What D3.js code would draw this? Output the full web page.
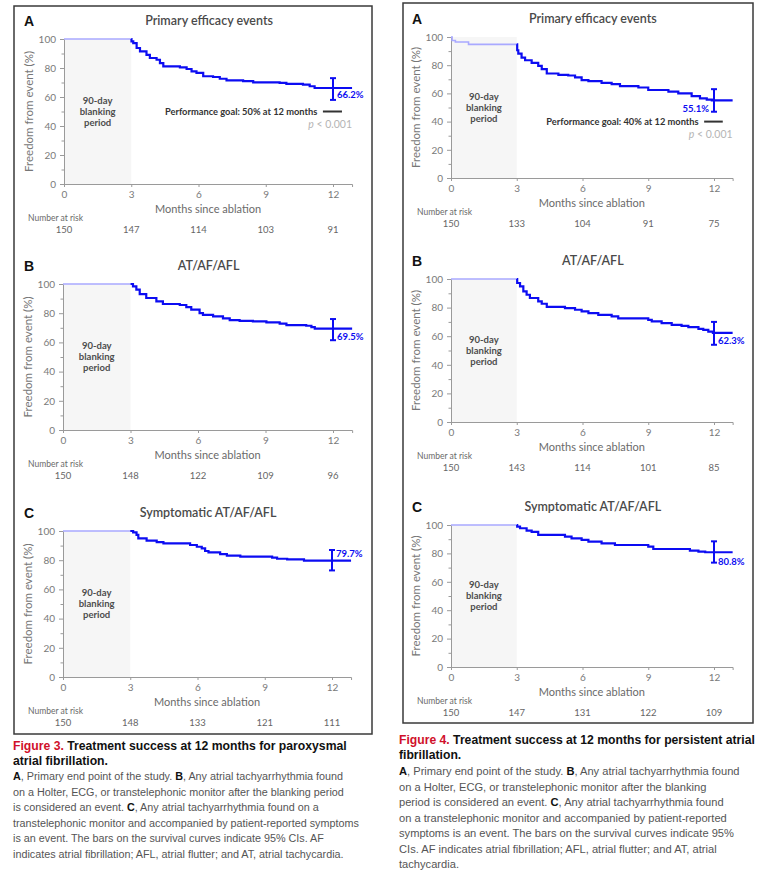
<!DOCTYPE html>
<html>
<head>
<meta charset="utf-8">
<script src="https://cdn.jsdelivr.net/npm/d3@7"></script>
<style>
  body { margin: 0; background: #fff; }
  svg { display: block; }
</style>
</head>
<body>
<svg id="fig" width="763" height="871"></svg>
<script>
// month grid used for ticks + number at risk
const riskMonths = [0, 3, 6, 9, 12];
const yTicks = [0, 20, 40, 60, 80, 100];
const yMinor = [10, 30, 50, 70, 90];

// Figure 3 (paroxysmal AF)
const fig3A_months = [3.0, 3.01, 3.09, 3.24, 3.39, 3.68, 3.83, 4.13, 4.28, 4.43, 5.17, 5.47, 5.69, 5.91, 6.21, 6.65, 6.95, 7.25, 7.99, 8.44, 9.62, 9.92, 10.66, 10.96, 11.18];
const fig3A_free   = [100, 98.4, 97.2, 93.8, 91.5, 89, 86.9, 85.7, 83.4, 81.1, 80.5, 79.3, 77.7, 76.6, 74.3, 73.8, 72.6, 71.5, 71, 70.1, 69.7, 69, 68.5, 67.4, 66.2];
const fig3A_risk   = [150, 147, 114, 103, 91];

const fig3B_months = [3.0, 3.11, 3.26, 3.41, 3.7, 4.15, 4.44, 5.19, 5.48, 5.7, 6.07, 6.22, 6.67, 7.11, 7.41, 7.85, 8.44, 9.04, 9.63, 9.93, 10.81, 11.04, 11.19];
const fig3B_free   = [100, 98.4, 96.1, 93.1, 90.4, 88.1, 86.3, 85.6, 84.2, 82.4, 80.1, 78.9, 77.8, 76.4, 75.3, 74.8, 74.4, 73.7, 72.8, 71.9, 71.4, 70.5, 69.5];
const fig3B_risk   = [150, 148, 122, 109, 96];

const fig3C_months = [3.0, 3.13, 3.28, 3.36, 3.73, 4.18, 4.48, 5.67, 5.97, 6.19, 6.34, 6.49, 7.01, 7.31, 7.91, 9.33, 9.55, 10.0, 10.75];
const fig3C_free   = [100, 99.1, 97.3, 95, 93.4, 92.4, 91.5, 90.4, 89.2, 88.1, 86.3, 85.4, 84.2, 83.1, 82.4, 81.7, 81, 80.5, 79.7];
const fig3C_risk   = [150, 148, 133, 121, 111];

// Figure 4 (persistent AF)
const fig4A_blankMonths = [0, 0.05, 0.2, 0.8];
const fig4A_blankFree   = [100, 97.5, 96.5, 94.8];
const fig4A_months = [3.0, 3.02, 3.07, 3.22, 3.38, 3.68, 3.98, 4.14, 4.37, 4.9, 5.35, 5.66, 5.96, 6.27, 6.87, 7.33, 7.71, 8.55, 9.0, 9.92, 10.37, 10.98, 11.36, 11.67, 11.9];
const fig4A_free   = [94.8, 90.6, 88.2, 85.4, 83.5, 81.6, 79.5, 77.2, 74.1, 73.2, 72.7, 71.3, 69.4, 68.7, 67.5, 66.6, 65.2, 64.2, 62.4, 61.2, 60, 58.1, 56.5, 55.6, 55.1];
const fig4A_risk   = [150, 133, 104, 91, 75];

const fig4B_months = [3.0, 3.02, 3.15, 3.3, 3.45, 3.6, 3.98, 4.14, 4.37, 5.2, 5.66, 5.96, 6.27, 6.72, 7.33, 7.63, 9.0, 9.16, 9.61, 10.07, 10.52, 10.83, 11.29, 11.51, 11.74, 11.95];
const fig4B_free   = [100, 97.2, 94.8, 91.3, 89, 86.7, 84.3, 82.7, 80.5, 79.6, 78.5, 77.3, 76.1, 74.9, 73.8, 72.4, 71.4, 70.3, 69.1, 67.9, 67.2, 66.3, 65.1, 64.4, 63.2, 62.3];
const fig4B_risk   = [150, 143, 114, 101, 85];

const fig4C_months = [3.0, 3.02, 3.15, 3.45, 3.68, 3.98, 5.2, 5.5, 5.96, 6.27, 6.87, 7.48, 9.0, 9.23, 10.9, 11.29, 11.6];
const fig4C_free   = [100, 98.8, 97.7, 96, 95.1, 93, 91.8, 90.6, 89.5, 88.3, 87.1, 85.9, 84.8, 83.1, 82, 81.3, 80.8];
const fig4C_risk   = [150, 147, 131, 122, 109];

// 12-month estimate + 95% CI
const finalEst = { "3A": 66.2, "3B": 69.5, "3C": 79.7, "4A": 55.1, "4B": 62.3, "4C": 80.8 };
const finalCI  = { "3A": [58, 73], "3B": [61.5, 76], "3C": [73, 87], "4A": [47, 63], "4B": [54, 70], "4C": [73.5, 88.5] };
const goals    = { "3A": 50, "4A": 40 };

const titles = ["Primary efficacy events", "AT/AF/AFL", "Symptomatic AT/AF/AFL"];

const BLUE = "#0c0cf2", LIGHTBLUE = "#a9a9ff";
const svg = d3.select("#fig");
svg.append("rect").attr("width", 763).attr("height", 871).attr("fill", "#fff");

// frames round each figure
svg.append("rect").attr("x", 14).attr("y", 6).attr("width", 358).attr("height", 728)
  .attr("fill", "none").attr("stroke", "#3a3a3a").attr("stroke-width", 1.5);
svg.append("rect").attr("x", 403).attr("y", 3).attr("width", 350).attr("height", 720)
  .attr("fill", "none").attr("stroke", "#3a3a3a").attr("stroke-width", 1.5);

// panel layouts (pixels only)
const panels = [
  { id: "3A", letter: "A", t: 0, m: fig3A_months, f: fig3A_free, risk: fig3A_risk, x0: 64, x12: 333, y0: 184, y100: 39, side: "right", dy: 7 },
  { id: "3B", letter: "B", t: 1, m: fig3B_months, f: fig3B_free, risk: fig3B_risk, x0: 63, x12: 333, y0: 430, y100: 284, side: "right", dy: 8 },
  { id: "3C", letter: "C", t: 2, m: fig3C_months, f: fig3C_free, risk: fig3C_risk, x0: 63, x12: 332, y0: 677, y100: 531, side: "right", dy: -7 },
  { id: "4A", letter: "A", t: 0, m: fig4A_months, f: fig4A_free, risk: fig4A_risk, bm: fig4A_blankMonths, bf: fig4A_blankFree, x0: 451, x12: 714, y0: 178, y100: 37, side: "left", dy: 8 },
  { id: "4B", letter: "B", t: 1, m: fig4B_months, f: fig4B_free, risk: fig4B_risk, x0: 451, x12: 714, y0: 422, y100: 279, side: "right", dy: 8 },
  { id: "4C", letter: "C", t: 2, m: fig4C_months, f: fig4C_free, risk: fig4C_risk, x0: 451, x12: 714, y0: 667, y100: 525, side: "right", dy: 9 }
];

const FONT = "Lato, 'Open Sans', sans-serif";
const endMonth = 12.85;

panels.forEach(p => {
  const g = svg.append("g").style("font-family", FONT);
  const pxPerMonth = (p.x12 - p.x0) / 12;
  const x = d3.scaleLinear().domain([0, endMonth]).range([p.x0, p.x0 + endMonth * pxPerMonth]);
  const y = d3.scaleLinear().domain([0, 100]).range([p.y0, p.y100]);

  // blanking period shading
  g.append("rect")
    .attr("x", x(0)).attr("y", y(100))
    .attr("width", x(3) - x(0)).attr("height", y(0) - y(100))
    .attr("fill", "#f6f6f6");

  // axes
  g.append("g").attr("transform", `translate(${x(0)},0)`)
    .call(d3.axisLeft(y).tickValues(yTicks).tickSize(4).tickPadding(4));
  g.append("g").attr("transform", `translate(${x(0)},0)`)
    .call(d3.axisLeft(y).tickValues(yMinor).tickSize(2.5).tickFormat(""))
    .call(a => a.select(".domain").remove());
  g.append("g").attr("transform", `translate(0,${y(0)})`)
    .call(d3.axisBottom(x).tickValues(riskMonths).tickSize(3).tickPadding(4));
  g.selectAll(".domain, .tick line").attr("stroke", "#9a9a9a");
  g.selectAll(".tick text").attr("fill", "#7a7a7a").style("font-size", "10px").style("font-family", FONT);

  // titles
  g.append("text").attr("y", y(100) - 18).attr("dy", "0.35em")
    .attr("x", p.id[0] === "3" ? 24 : 412)
    .style("font-size", "14px").style("font-weight", 900).attr("fill", "#111")
    .style("font-family", "'Liberation Sans', Arial, sans-serif")
    .text(p.letter);
  g.append("text").attr("x", (x(0) + x(endMonth)) / 2 + 1).attr("y", y(100) - 18).attr("dy", "0.35em")
    .attr("text-anchor", "middle").style("font-size", "12.5px").style("font-weight", 600)
    .attr("fill", "#4a4a4a").text(titles[p.t]);

  // axis titles
  g.append("text")
    .attr("transform", `translate(${x(0) - 35},${y(50)}) rotate(-90)`)
    .attr("text-anchor", "middle").attr("dy", "0.35em")
    .style("font-size", "11.5px").attr("fill", "#777")
    .text("Freedom from event (%)");
  g.append("text").attr("x", (x(0) + x(endMonth)) / 2).attr("y", y(0) + 25).attr("dy", "0.35em")
    .attr("text-anchor", "middle").style("font-size", "11px").attr("fill", "#6a6a6a")
    .text("Months since ablation");

  // blanking label
  ["90-day", "blanking", "period"].forEach((s, i) => {
    g.append("text").attr("x", (x(0) + x(3)) / 2).attr("y", y(50) + (i - 1) * 11).attr("dy", "0.35em")
      .attr("text-anchor", "middle").style("font-size", "9.5px").style("font-weight", 700)
      .attr("fill", "#4d4d4d").text(s);
  });

  // number at risk
  g.append("text").attr("x", p.id[0] === "3" ? 28 : 417).attr("y", y(0) + 34).attr("dy", "0.35em")
    .style("font-size", "8.5px").attr("fill", "#6a6a6a").text("Number at risk");
  g.selectAll(".risk").data(p.risk).enter().append("text")
    .attr("x", (d, i) => x(riskMonths[i])).attr("y", y(0) + 45.5).attr("dy", "0.35em")
    .attr("text-anchor", "middle").style("font-size", "9.5px").attr("fill", "#666")
    .text(d => d);

  // KM curve
  const line = d3.line().x(d => x(d[0])).y(d => y(d[1])).curve(d3.curveStepAfter);
  const bm = p.bm || [0], bf = p.bf || [100];
  const blankPts = bm.map((m, i) => [m, bf[i]]);
  blankPts.push([3, bf[bf.length - 1]]);
  g.append("path").datum(blankPts).attr("d", line)
    .attr("fill", "none").attr("stroke", LIGHTBLUE).attr("stroke-width", 1.6);
  const pts = p.m.map((m, i) => [m, p.f[i]]);
  pts.push([endMonth, p.f[p.f.length - 1]]);
  g.append("path").datum(pts).attr("d", line)
    .attr("fill", "none").attr("stroke", BLUE).attr("stroke-width", 2.2);

  // 95% CI bar at 12 months
  const ci = finalCI[p.id];
  g.append("line").attr("x1", x(12)).attr("x2", x(12)).attr("y1", y(ci[0])).attr("y2", y(ci[1]))
    .attr("stroke", BLUE).attr("stroke-width", 2);
  ci.forEach(v => g.append("line").attr("x1", x(12) - 3).attr("x2", x(12) + 3)
    .attr("y1", y(v)).attr("y2", y(v)).attr("stroke", BLUE).attr("stroke-width", 2));
  const est = finalEst[p.id];
  g.append("text")
    .attr("x", p.side === "right" ? x(12) + 4 : x(12) - 5)
    .attr("y", y(est) + p.dy).attr("dy", "0.35em")
    .attr("text-anchor", p.side === "right" ? "start" : "end")
    .style("font-size", "9.5px").style("font-weight", 700).attr("fill", BLUE)
    .text(est.toFixed(1) + "%");

  // performance goal
  if (goals[p.id] !== undefined) {
    const gv = goals[p.id];
    g.append("line").attr("x1", x(11.55)).attr("x2", x(12.4)).attr("y1", y(gv)).attr("y2", y(gv))
      .attr("stroke", "#333").attr("stroke-width", 2);
    g.append("text").attr("x", x(11.3)).attr("y", y(gv)).attr("dy", "0.35em")
      .attr("text-anchor", "end").style("font-size", "9.3px").style("font-weight", 700).attr("fill", "#333")
      .text(`Performance goal: ${gv}% at 12 months`);
    const pt = g.append("text").attr("x", x(12.85)).attr("y", y(gv) + 13).attr("dy", "0.35em")
      .attr("text-anchor", "end").style("font-size", "10.5px").attr("fill", "#b5b5b5");
    pt.append("tspan").style("font-style", "italic").text("p");
    pt.append("tspan").text(" < 0.001");
  }
});

// captions
const cap3 = [
  { y: 750, bold: true, parts: [["Figure 3.", "#d0102a"], [" Treatment success at 12 months for paroxysmal", "#111"]], w: 334 },
  { y: 765, bold: true, parts: [["atrial fibrillation.", "#111"]] },
  { y: 780, parts: [["A", "#111", 1], [", Primary end point of the study. ", "#555"], ["B", "#111", 1], [", Any atrial tachyarrhythmia found", "#555"]], w: 322 },
  { y: 795.5, parts: [["on a Holter, ECG, or transtelephonic monitor after the blanking period", "#555"]], w: 330 },
  { y: 811, parts: [["is considered an event. ", "#555"], ["C", "#111", 1], [", Any atrial tachyarrhythmia found on a", "#555"]], w: 315 },
  { y: 826.5, parts: [["transtelephonic monitor and accompanied by patient-reported symptoms", "#555"]], w: 359 },
  { y: 842, parts: [["is an event. The bars on the survival curves indicate 95% CIs. AF", "#555"]], w: 312 },
  { y: 857.5, parts: [["indicates atrial fibrillation; AFL, atrial flutter; and AT, atrial tachycardia.", "#555"]], w: 330 }
];
const cap4 = [
  { y: 744, bold: true, parts: [["Figure 4.", "#d0102a"], [" Treatment success at 12 months for persistent atrial", "#111"]], w: 356 },
  { y: 759, bold: true, parts: [["fibrillation.", "#111"]] },
  { y: 775, parts: [["A", "#111", 1], [", Primary end point of the study. ", "#555"], ["B", "#111", 1], [", Any atrial tachyarrhythmia found", "#555"]], w: 339 },
  { y: 790.5, parts: [["on a Holter, ECG, or transtelephonic monitor after the blanking", "#555"]], w: 309 },
  { y: 806, parts: [["period is considered an event. ", "#555"], ["C", "#111", 1], [", Any atrial tachyarrhythmia found", "#555"]], w: 323 },
  { y: 821.5, parts: [["on a transtelephonic monitor and accompanied by patient-reported", "#555"]], w: 339 },
  { y: 837, parts: [["symptoms is an event. The bars on the survival curves indicate 95%", "#555"]], w: 333 },
  { y: 852.5, parts: [["CIs. AF indicates atrial fibrillation; AFL, atrial flutter; and AT, atrial", "#555"]], w: 334 },
  { y: 868, parts: [["tachycardia.", "#555"]] }
];

function caption(lines, x0) {
  let boldSize = 12, bodySizes = [];
  lines.forEach(l => {
    const t = svg.append("text").attr("x", x0).attr("y", l.y)
      .style("font-family", "'Liberation Sans', Arial, sans-serif")
      .style("font-size", "12px");
    l.parts.forEach(pt => {
      t.append("tspan").attr("fill", pt[1]).style("font-weight", (l.bold || pt[2]) ? 700 : 400).text(pt[0]);
    });
    l.node = t;
    if (l.w) {
      // scale font to the width in the reference
      const s = 12 * l.w / t.node().getComputedTextLength();
      if (l.bold) boldSize = s; else bodySizes.push(s);
    }
  });
  const body = d3.median(bodySizes);
  lines.forEach(l => l.node.style("font-size", (l.bold ? boldSize : body).toFixed(2) + "px"));
}
caption(cap3, 13);
caption(cap4, 399);
</script>
</body>
</html>
